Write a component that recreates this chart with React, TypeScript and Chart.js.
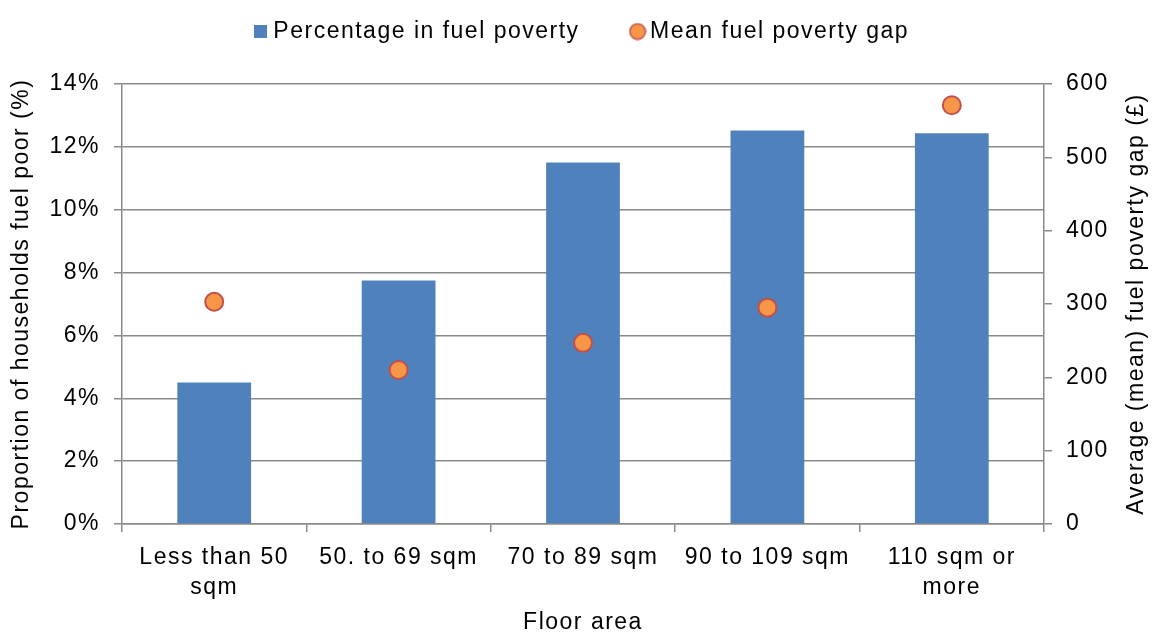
import React, { useEffect, useRef } from 'react';
import { Chart, registerables } from 'chart.js';

Chart.register(...registerables);

// ---- data ----
const categories: string[][] = [
  ['Less than 50', 'sqm'],
  ['50. to 69 sqm'],
  ['70 to 89 sqm'],
  ['90 to 109 sqm'],
  ['110 sqm or', 'more'],
];
const percentInFuelPoverty = [4.5, 7.75, 11.5, 12.52, 12.43];
const meanFuelPovertyGap = [303, 210, 247, 295, 571];
const seriesNames = ['Percentage in fuel poverty', 'Mean fuel poverty gap'];
const leftAxisMax = 14;
const leftAxisStep = 2;
const rightAxisMax = 600;
const rightAxisStep = 100;
const xTitle = 'Floor area';
const leftTitle = 'Proportion of households fuel poor (%)';
const rightTitle = 'Average (mean) fuel poverty gap (£)';

// ---- styles ----
const FONT = '"Liberation Sans", Arial, Helvetica, sans-serif';
const FS = 23;
const SPACING = '1.5px';
const BLUE = '#4F81BD';
const ORANGE = '#F79646';
const RED = '#C0504D';
const GRID = '#8A8A8A';
const LEGEND_HEIGHT = 84;

function makeSquare(): HTMLCanvasElement {
  const c = document.createElement('canvas');
  c.width = 13;
  c.height = 13;
  const g = c.getContext('2d')!;
  g.fillStyle = BLUE;
  g.fillRect(0, 0, 13, 13);
  return c;
}

function makeCircle(): HTMLCanvasElement {
  const c = document.createElement('canvas');
  c.width = 18;
  c.height = 18;
  const g = c.getContext('2d')!;
  g.beginPath();
  g.arc(9, 9, 7.8, 0, Math.PI * 2);
  g.fillStyle = ORANGE;
  g.fill();
  g.lineWidth = 1.5;
  g.strokeStyle = RED;
  g.stroke();
  return c;
}

export default function App() {
  const ref = useRef<HTMLCanvasElement | null>(null);

  useEffect(() => {
    const canvas = ref.current;
    if (!canvas) return;
    const squareImg = makeSquare();
    const circleImg = makeCircle();

    const typography = {
      id: 'typography',
      beforeUpdate(chart: any) {
        chart.ctx.letterSpacing = SPACING;
        const lg = chart.legend;
        if (lg && !lg.__patched) {
          const origFit = lg.fit;
          lg.fit = function () {
            origFit.call(this);
            this.height = LEGEND_HEIGHT;
          };
          lg.__patched = true;
        }
      },
      beforeLayout(chart: any) {
        chart.ctx.letterSpacing = SPACING;
      },
      afterLayout(chart: any) {
        const lg = chart.legend;
        if (lg) {
          lg.top = -37;
          lg.bottom = LEGEND_HEIGHT - 37;
          lg.left = 8;
          lg.right = chart.width + 8;
        }
      },
      beforeDraw(chart: any) {
        chart.ctx.letterSpacing = SPACING;
      },
      afterDraw(chart: any) {
        const ctx = chart.ctx;
        const s = chart.scales.y1;
        ctx.save();
        ctx.letterSpacing = SPACING;
        ctx.font = `${FS}px ${FONT}`;
        ctx.fillStyle = '#000';
        ctx.textAlign = 'center';
        ctx.textBaseline = 'middle';
        ctx.translate(s.right - 16, (chart.chartArea.top + chart.chartArea.bottom) / 2);
        ctx.rotate(-Math.PI / 2);
        ctx.fillText(rightTitle, 0, 0);
        ctx.restore();
      },
    };

    const font = { family: FONT, size: FS };

    const chart = new Chart(canvas, {
      data: {
        labels: categories,
        datasets: [
          {
            type: 'bar',
            label: seriesNames[0],
            data: percentInFuelPoverty,
            backgroundColor: BLUE,
            yAxisID: 'y',
            barPercentage: 0.4,
            categoryPercentage: 1,
            order: 2,
          } as any,
          {
            type: 'line',
            label: seriesNames[1],
            data: meanFuelPovertyGap,
            yAxisID: 'y1',
            showLine: false,
            pointRadius: 9,
            pointBorderWidth: 2,
            pointBackgroundColor: ORANGE,
            pointBorderColor: RED,
            backgroundColor: ORANGE,
            borderColor: RED,
            order: 1,
          } as any,
        ],
      },
      options: {
        responsive: false,
        animation: false,
        events: [],
        layout: { padding: 0 },
        plugins: {
          tooltip: { enabled: false },
          legend: {
            position: 'top',
            labels: {
              usePointStyle: true,
              boxWidth: 2,
              padding: 57,
              color: '#000',
              font,
              sort: (a: any, b: any) => a.datasetIndex - b.datasetIndex,
              generateLabels: (c: any) => {
                const items = (Chart.defaults.plugins.legend.labels as any).generateLabels(c);
                items.forEach((it: any) => {
                  it.pointStyle = it.datasetIndex === 0 ? squareImg : circleImg;
                });
                return items;
              },
            },
          },
        },
        scales: {
          x: {
            type: 'category',
            offset: true,
            grid: {
              offset: true,
              drawOnChartArea: false,
              drawTicks: true,
              tickLength: 8,
              color: GRID,
              lineWidth: 1.5,
            },
            border: { color: GRID, width: 1.5 },
            ticks: {
              font: { family: FONT, size: FS, lineHeight: 1.32 },
              color: '#000',
              padding: 10,
              maxRotation: 0,
              autoSkip: false,
            },
            title: {
              display: true,
              text: xTitle,
              color: '#000',
              font: { family: FONT, size: FS, lineHeight: 1 },
              padding: 0,
            },
            afterFit: (s: any) => {
              s.height = 110;
            },
          },
          y: {
            position: 'left',
            min: 0,
            max: leftAxisMax,
            ticks: {
              stepSize: leftAxisStep,
              callback: (v: any) => `${v}%`,
              padding: 14,
              color: '#000',
              font,
            },
            grid: { color: GRID, lineWidth: 1.5, tickLength: 8 },
            border: { color: GRID, width: 1.5 },
            title: {
              display: true,
              text: leftTitle,
              color: '#000',
              font: { family: FONT, size: FS, lineHeight: 1.2 },
              padding: { top: 8, bottom: 0 },
            },
            afterFit: (s: any) => {
              s.width = 122;
            },
          },
          y1: {
            position: 'right',
            min: 0,
            max: rightAxisMax,
            ticks: {
              stepSize: rightAxisStep,
              padding: 14,
              color: '#000',
              font,
            },
            grid: { drawOnChartArea: false, color: GRID, lineWidth: 1.5, tickLength: 8 },
            border: { color: GRID, width: 1.5 },
            afterFit: (s: any) => {
              s.width = 109;
            },
          },
        },
      } as any,
      plugins: [typography as any],
    });

    return () => {
      chart.destroy();
    };
  }, []);

  return (
    <div style={{ position: 'fixed', left: 0, top: 0, width: 1153, height: 634, background: '#fff' }}>
      <canvas ref={ref} width={1153} height={634} style={{ display: 'block' }} />
    </div>
  );
}
